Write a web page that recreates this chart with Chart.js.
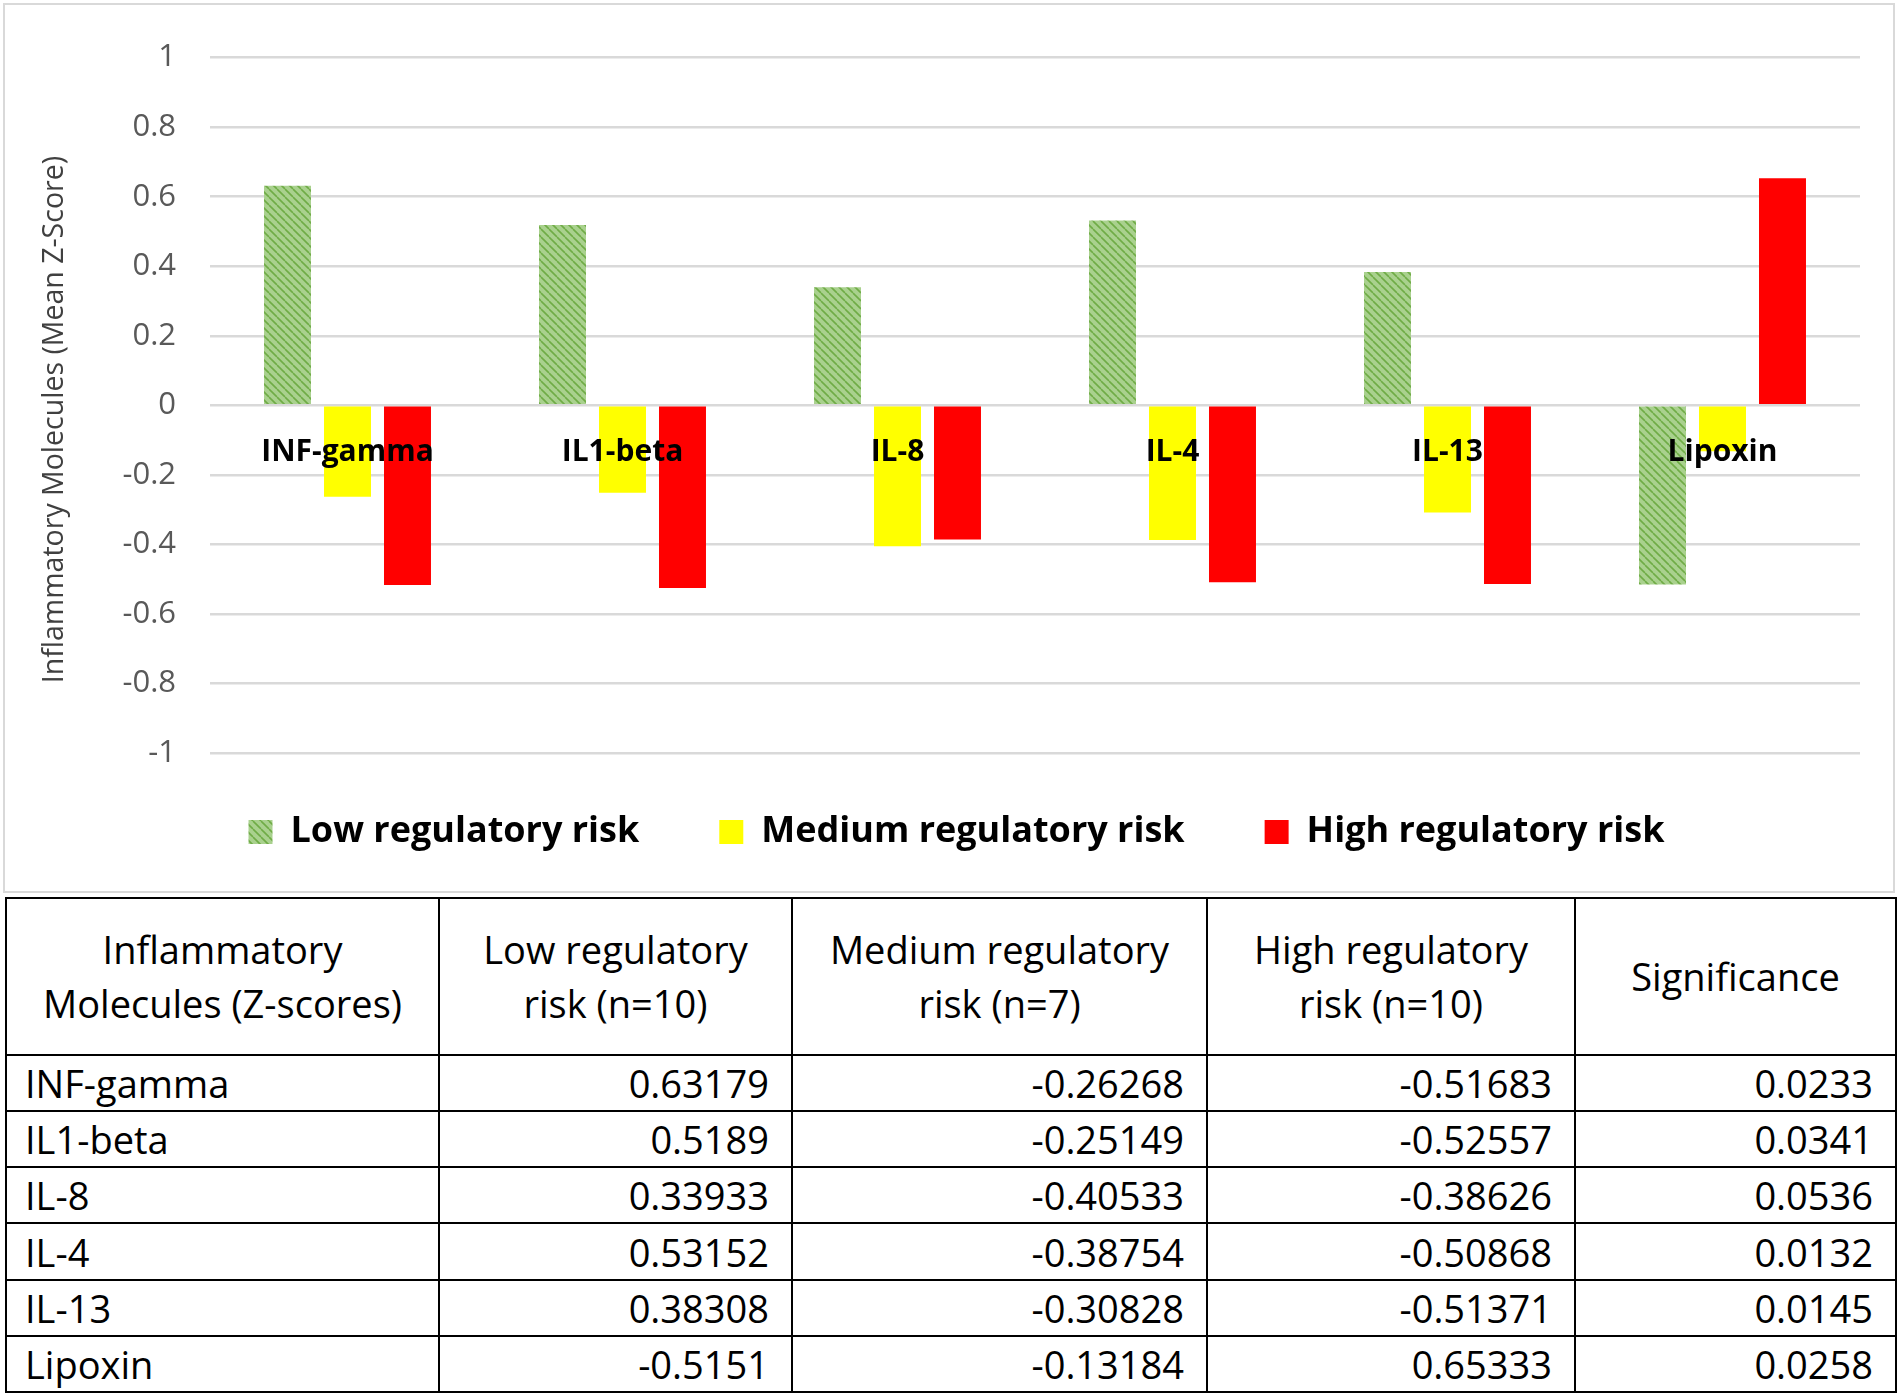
<!DOCTYPE html>
<html>
<head>
<meta charset="utf-8">
<script src="https://cdn.jsdelivr.net/npm/chart.js@4.4.1/dist/chart.umd.min.js"></script>
<style>
    body { margin: 0; background: #fff; width: 1900px; height: 1396px; position: relative; overflow: hidden; font-family: "Open Sans", sans-serif; }
    #chartBox { position: absolute; left: 3px; top: 3px; width: 1888px; height: 886px; border: 2px solid #d9d9d9; }
    #chartBox canvas { display: block; }
    #dataTable { position: absolute; left: 5px; top: 897px; width: 1890px; border-collapse: collapse; table-layout: fixed; font-size: 38px; color: #000; }
    #dataTable th, #dataTable td { border: 2.5px solid #000; padding: 0 22px; font-weight: normal; white-space: nowrap; }
    #dataTable th { text-align: center; vertical-align: middle; line-height: 54px; height: 154.5px; }
    #dataTable td { height: 54.3px; line-height: 54px; text-align: right; }
    #dataTable td:first-child { text-align: left; padding-left: 18px; }
</style>
</head>
<body>
<div id="chartBox"><canvas id="chart" width="1888" height="886"></canvas></div>
<table id="dataTable"></table>
<script>
// values from the figure's table
const categories = ['INF-gamma', 'IL1-beta', 'IL-8', 'IL-4', 'IL-13', 'Lipoxin'];
const lowRisk = [0.63179, 0.5189, 0.33933, 0.53152, 0.38308, -0.5151];
const mediumRisk = [-0.26268, -0.25149, -0.40533, -0.38754, -0.30828, -0.13184];
const highRisk = [-0.51683, -0.52557, -0.38626, -0.50868, -0.51371, 0.65333];
const significance = [0.0233, 0.0341, 0.0536, 0.0132, 0.0145, 0.0258];
const seriesNames = ['Low regulatory risk', 'Medium regulatory risk', 'High regulatory risk'];
const yTicks = [-1, -0.8, -0.6, -0.4, -0.2, 0, 0.2, 0.4, 0.6, 0.8, 1];
const tableHeaders = ['Inflammatory<br>Molecules (Z-scores)', 'Low regulatory<br>risk (n=10)',
    'Medium regulatory<br>risk (n=7)', 'High regulatory<br>risk (n=10)', 'Significance'];

// build the table
const table = document.getElementById('dataTable');
let html = '<colgroup><col style="width:433px"><col style="width:353px"><col style="width:415px"><col style="width:368px"><col style="width:321px"></colgroup>';
html += '<tr>' + tableHeaders.map(h => `<th>${h}</th>`).join('') + '</tr>';
categories.forEach((c, i) => {
    html += `<tr><td>${c}</td><td>${lowRisk[i]}</td><td>${mediumRisk[i]}</td><td>${highRisk[i]}</td><td>${significance[i]}</td></tr>`;
});
table.innerHTML = html;

// hatched green fill
function makeHatch() {
    const c = document.createElement('canvas');
    c.width = 8; c.height = 8;
    const g = c.getContext('2d');
    g.fillStyle = '#a9d18e';
    g.fillRect(0, 0, 8, 8);
    g.strokeStyle = '#6fac46';
    g.lineWidth = 1.6;
    for (let i = -8; i <= 8; i += 8) {
        g.beginPath();
        g.moveTo(i, 0);
        g.lineTo(i + 8, 8);
        g.stroke();
    }
    return g.createPattern(c, 'repeat');
}
const hatch = makeHatch();

// legend sits a bit higher and further right than the layout would put it
const legendShift = {
    id: 'legendShift',
    afterLayout(chart) {
        const lg = chart.legend;
        const h = lg.bottom - lg.top;
        lg.top = 729;
        lg.bottom = 729 + h;
        lg.left += 24;
        lg.right += 24;
    }
};

const ctx = document.getElementById('chart').getContext('2d');
new Chart(ctx, {
    type: 'bar',
    data: {
        labels: categories,
        datasets: [
            { label: seriesNames[0], data: lowRisk, backgroundColor: hatch },
            { label: seriesNames[1], data: mediumRisk, backgroundColor: '#ffff00' },
            { label: seriesNames[2], data: highRisk, backgroundColor: '#ff0000' }
        ]
    },
    options: {
        responsive: false,
        maintainAspectRatio: false,
        devicePixelRatio: 1,
        animation: false,
        categoryPercentage: 0.6545,
        barPercentage: 0.783,
        layout: { padding: { left: 0, right: 33, top: 48, bottom: 12 } },
        plugins: {
            legend: {
                position: 'bottom',
                labels: {
                    boxWidth: 24,
                    boxHeight: 24,
                    padding: 80,
                    color: '#000',
                    font: { family: 'Open Sans', size: 36, weight: 'bold' }
                }
            },
            tooltip: { enabled: false }
        },
        scales: {
            x: {
                position: { y: 0 },
                grid: { display: false, drawTicks: false },
                border: { display: false },
                ticks: {
                    z: 1,
                    color: '#000',
                    padding: 29,
                    maxRotation: 0,
                    autoSkip: false,
                    font: { family: 'Open Sans', size: 30, weight: 'bold' }
                },
                afterFit(scale) { scale.height = 0; }
            },
            y: {
                min: -1,
                max: 1,
                grid: { color: '#d9d9d9', lineWidth: 2.5, drawTicks: false },
                border: { display: false },
                afterBuildTicks(scale) { scale.ticks = yTicks.map(v => ({ value: v })); },
                afterFit(scale) { scale.width = 205; },
                ticks: {
                    color: '#595959',
                    padding: 34,
                    font: { family: 'Open Sans', size: 31 },
                    callback: v => String(Math.round(v * 10) / 10)
                },
                title: {
                    display: true,
                    text: 'Inflammatory Molecules (Mean Z-Score)\u2002\u2002',
                    color: '#404040',
                    padding: { top: 33, bottom: 0 },
                    font: { family: 'Open Sans', size: 28.5 }
                }
            }
        }
    },
    plugins: [legendShift]
});
</script>
</body>
</html>
